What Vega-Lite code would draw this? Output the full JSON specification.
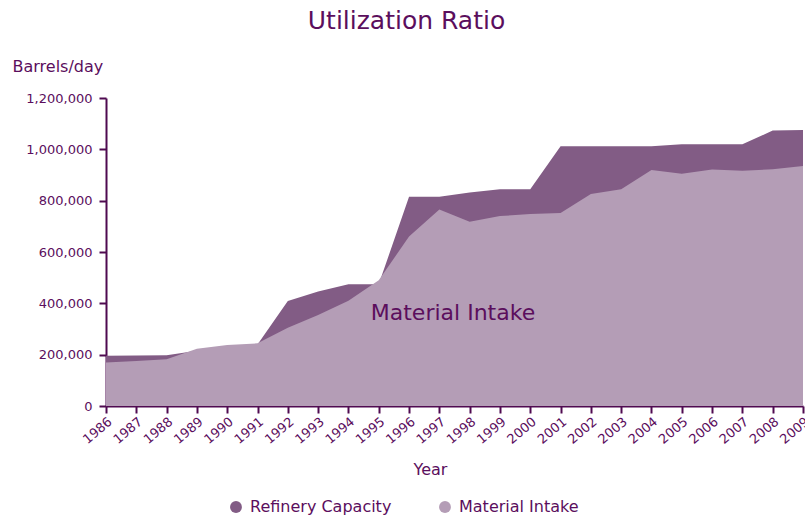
{
  "$schema": "https://vega.github.io/schema/vega-lite/v6.json",
  "width": 697,
  "height": 308,
  "autosize": "none",
  "padding": {"left": 106, "top": 98, "right": 2, "bottom": 114},
  "title": {"text": "Utilization Ratio", "fontSize": 25, "font": "DejaVu Sans", "fontWeight": "normal", "color": "#5B0E5D", "anchor": "middle", "offset": 24, "dx": -48},
  "config": {
    "view": {"stroke": null},
    "font": "DejaVu Sans",
    "axis": {"domainColor": "#4F0A50", "domainWidth": 2, "tickColor": "#4F0A50", "tickWidth": 2, "tickSize": 7, "labelColor": "#5B0E5D", "titleColor": "#5B0E5D", "grid": false, "labelFontSize": 13, "labelFont": "DejaVu Sans", "titleFont": "DejaVu Sans", "titleFontWeight": "normal"}
  },
  "data": {
    "values": [
      {"year": 1986, "series": "Refinery Capacity", "value": 196000},
      {"year": 1987, "series": "Refinery Capacity", "value": 197000},
      {"year": 1988, "series": "Refinery Capacity", "value": 198000},
      {"year": 1989, "series": "Refinery Capacity", "value": 215000},
      {"year": 1990, "series": "Refinery Capacity", "value": 232000},
      {"year": 1991, "series": "Refinery Capacity", "value": 240000},
      {"year": 1992, "series": "Refinery Capacity", "value": 409000},
      {"year": 1993, "series": "Refinery Capacity", "value": 446000},
      {"year": 1994, "series": "Refinery Capacity", "value": 474000},
      {"year": 1995, "series": "Refinery Capacity", "value": 474000},
      {"year": 1996, "series": "Refinery Capacity", "value": 815000},
      {"year": 1997, "series": "Refinery Capacity", "value": 815000},
      {"year": 1998, "series": "Refinery Capacity", "value": 832000},
      {"year": 1999, "series": "Refinery Capacity", "value": 844000},
      {"year": 2000, "series": "Refinery Capacity", "value": 844000},
      {"year": 2001, "series": "Refinery Capacity", "value": 1012000},
      {"year": 2002, "series": "Refinery Capacity", "value": 1012000},
      {"year": 2003, "series": "Refinery Capacity", "value": 1012000},
      {"year": 2004, "series": "Refinery Capacity", "value": 1012000},
      {"year": 2005, "series": "Refinery Capacity", "value": 1020000},
      {"year": 2006, "series": "Refinery Capacity", "value": 1020000},
      {"year": 2007, "series": "Refinery Capacity", "value": 1020000},
      {"year": 2008, "series": "Refinery Capacity", "value": 1073000},
      {"year": 2009, "series": "Refinery Capacity", "value": 1075000},
      {"year": 1986, "series": "Material Intake", "value": 169000},
      {"year": 1987, "series": "Material Intake", "value": 175000},
      {"year": 1988, "series": "Material Intake", "value": 182000},
      {"year": 1989, "series": "Material Intake", "value": 223000},
      {"year": 1990, "series": "Material Intake", "value": 238000},
      {"year": 1991, "series": "Material Intake", "value": 244000},
      {"year": 1992, "series": "Material Intake", "value": 305000},
      {"year": 1993, "series": "Material Intake", "value": 355000},
      {"year": 1994, "series": "Material Intake", "value": 410000},
      {"year": 1995, "series": "Material Intake", "value": 490000},
      {"year": 1996, "series": "Material Intake", "value": 660000},
      {"year": 1997, "series": "Material Intake", "value": 766000},
      {"year": 1998, "series": "Material Intake", "value": 718000},
      {"year": 1999, "series": "Material Intake", "value": 740000},
      {"year": 2000, "series": "Material Intake", "value": 748000},
      {"year": 2001, "series": "Material Intake", "value": 752000},
      {"year": 2002, "series": "Material Intake", "value": 826000},
      {"year": 2003, "series": "Material Intake", "value": 844000},
      {"year": 2004, "series": "Material Intake", "value": 919000},
      {"year": 2005, "series": "Material Intake", "value": 905000},
      {"year": 2006, "series": "Material Intake", "value": 921000},
      {"year": 2007, "series": "Material Intake", "value": 917000},
      {"year": 2008, "series": "Material Intake", "value": 922000},
      {"year": 2009, "series": "Material Intake", "value": 935000}
    ]
  },
  "encoding": {
    "x": {
      "field": "year", "type": "quantitative",
      "scale": {"domain": [1986, 2009], "nice": false, "zero": false},
      "axis": {"values": [1986,1987,1988,1989,1990,1991,1992,1993,1994,1995,1996,1997,1998,1999,2000,2001,2002,2003,2004,2005,2006,2007,2008,2009], "format": "d", "labelAngle": -40, "labelAlign": "right", "labelBaseline": "top", "labelPadding": 2, "labelOverlap": false, "labelFlush": false, "title": "Year", "titleFontSize": 16, "titleX": 324, "titleY": 63, "titleBaseline": "middle"}
    },
    "y": {
      "field": "value", "type": "quantitative",
      "scale": {"domain": [0, 1200000], "nice": false},
      "axis": {"values": [0,200000,400000,600000,800000,1000000,1200000], "format": ",d", "labelPadding": 7, "title": "Barrels/day", "titleAngle": 0, "titleAlign": "left", "titleBaseline": "middle", "titleX": -94, "titleY": -32, "titleFontSize": 16}
    },
    "color": {
      "field": "series", "type": "nominal",
      "scale": {"domain": ["Refinery Capacity", "Material Intake"], "range": ["#825C85", "#B49DB6"]},
      "legend": {"title": null, "orient": "none", "legendX": 122, "legendY": 401, "direction": "horizontal", "symbolType": "circle", "symbolSize": 140, "symbolStrokeWidth": 0, "labelFontSize": 16, "labelColor": "#5B0E5D", "labelFont": "DejaVu Sans", "labelOffset": 6, "columnPadding": 45}
    }
  },
  "layer": [
    {"transform": [{"filter": "datum.series === 'Refinery Capacity'"}], "mark": {"type": "area", "opacity": 1}},
    {"transform": [{"filter": "datum.series === 'Material Intake'"}], "mark": {"type": "area", "opacity": 1}},
    {
      "transform": [{"filter": "datum.series === 'Material Intake' && datum.year === 1986"}],
      "mark": {"type": "text", "fontSize": 22, "font": "DejaVu Sans", "align": "center", "baseline": "middle", "fill": "#5B0E5D"},
      "encoding": {
        "x": {"datum": 1997.45, "type": "quantitative"},
        "y": {"datum": 362000, "type": "quantitative"},
        "text": {"field": "series"},
        "color": {"value": "#5B0E5D"}
      }
    }
  ]
}
